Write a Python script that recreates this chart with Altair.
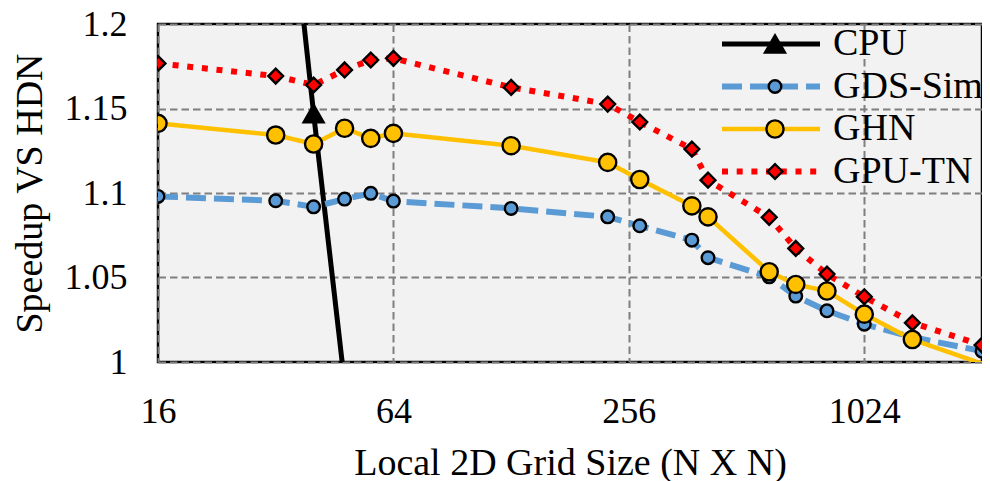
import altair as alt
import pandas as pd

# ---- data ----
grid_sizes = [16, 32, 40, 48, 56, 64, 128, 226, 273, 371, 408, 585, 684, 822, 1024, 1359, 2048]
gds_sim = [1.098, 1.0954, 1.0918, 1.0964, 1.0998, 1.0952, 1.0909, 1.0859, 1.0806, 1.0721,
           1.0617, 1.0504, 1.039, 1.0303, 1.0224, 1.0147, 1.0064]
ghn = [1.1412, 1.1343, 1.129, 1.1383, 1.1323, 1.1353, 1.128, 1.1181, 1.108, 1.0924,
       1.0859, 1.0534, 1.0459, 1.042, 1.0283, 1.0133, 0.999]
gpu_tn = [1.1767, 1.1692, 1.1639, 1.1728, 1.1787, 1.1797, 1.1625, 1.1526, 1.142, 1.126,
          1.1076, 1.0856, 1.0672, 1.052, 1.0386, 1.0232, 1.010]
cpu_sizes = [32, 40, 48]
cpu = [1.355, 1.147, 0.9875]

series_names = ["CPU", "GDS-Sim", "GHN", "GPU-TN"]
line_colors = ["#000000", "#5b9bd5", "#ffc000", "#ff0000"]
line_dashes = [[1, 0], [20, 8], [1, 0], [6, 8.7]]
line_widths = [5, 6, 4.5, 6]
marker_fills = ["#000000", "#5b9bd5", "#ffc000", "#ff0000"]
# marker paths drawn at size 4 (scale 1 => pixel units)
marker_shapes = [
    "M0,-8.66L-10,8.66L10,8.66Z",
    "M-6.3,0A6.3,6.3,0,1,0,6.3,0A6.3,6.3,0,1,0,-6.3,0Z",
    "M-8.6,0A8.6,8.6,0,1,0,8.6,0A8.6,8.6,0,1,0,-8.6,0Z",
    "M-7.4,0L0,-7.4L7.4,0L0,7.4Z",
]

x_ticks = [16, 64, 256, 1024]
y_ticks = [1, 1.05, 1.1, 1.15, 1.2]

rows = []
for s, xs, ys in [("CPU", cpu_sizes, cpu), ("GDS-Sim", grid_sizes, gds_sim),
                  ("GHN", grid_sizes, ghn), ("GPU-TN", grid_sizes, gpu_tn)]:
    for xv, yv in zip(xs, ys):
        rows.append({"size": xv, "speedup": yv, "series": s, "series_m": s})
df = pd.DataFrame(rows)

FONT = "Liberation Serif"

x_enc = alt.X(
    "size:Q",
    scale=alt.Scale(type="log", base=2, domain=[16, 2048], nice=False),
    axis=alt.Axis(values=x_ticks, title="Local 2D Grid Size (N X N)", format="d",
                  labelBaseline="alphabetic", labelPadding=60, labelFlush=False,
                  titleY=112, titleBaseline="alphabetic"),
)
y_enc = alt.Y(
    "speedup:Q",
    scale=alt.Scale(domain=[1, 1.2], nice=False, zero=False),
    axis=alt.Axis(values=y_ticks, title="Speedup VS HDN", format="~g",
                  labelPadding=31, labelFlush=False, titleX=-128, titleY=169,
                  titleBaseline="middle", titleAlign="center", titleAngle=270),
)

stroke_enc = alt.Stroke(
    "series:N",
    scale=alt.Scale(domain=series_names, range=line_colors),
    legend=alt.Legend(title=None, orient="none", legendX=594, legendY=1,
                      symbolType="M-24.5,0L24.5,0", symbolSize=16,
                      labelFont=FONT, labelFontSize=38, labelColor="black",
                      labelOffset=43, labelLimit=400, rowPadding=4.5, padding=0),
)
dash_enc = alt.StrokeDash("series:N", scale=alt.Scale(domain=series_names, range=line_dashes))
width_enc = alt.StrokeWidth("series:N", scale=alt.Scale(type="ordinal", domain=series_names, range=line_widths))

fill_enc = alt.Fill(
    "series_m:N",
    scale=alt.Scale(range=marker_fills),
    legend=alt.Legend(title=None, orient="none", legendX=598, legendY=1,
                      symbolSize=4, symbolStrokeColor="black", symbolStrokeWidth=2.4,
                      labelFont=FONT, labelFontSize=38, labelExpr="' '",
                      labelOffset=43, labelLimit=400, rowPadding=4.5, padding=0),
)
shape_enc = alt.Shape("series_m:N", scale=alt.Scale(range=marker_shapes))

base = alt.Chart(df)
layers = []
for s in series_names:
    flt = alt.datum.series == s
    layers.append(
        base.transform_filter(flt)
        .mark_line(clip=True, strokeCap="butt", strokeJoin="round")
        .encode(x=x_enc, y=y_enc, stroke=stroke_enc, strokeDash=dash_enc, strokeWidth=width_enc)
    )
    layers.append(
        base.transform_filter(flt)
        .transform_filter("datum.speedup >= 1 && datum.speedup <= 1.2")
        .mark_point(clip=True, filled=True, size=4, stroke="black", strokeWidth=2.4, opacity=1)
        .encode(x=x_enc, y=y_enc, fill=fill_enc, shape=shape_enc)
    )

chart = (
    alt.layer(*layers)
    .properties(width=824, height=338,
                autosize=alt.AutoSizeParams(type="none"),
                padding={"left": 150, "top": 16, "right": 0, "bottom": 119})
    .configure_view(fill="#f2f2f2", stroke="black", strokeWidth=2.5)
    .configure_axis(domain=False, ticks=False, grid=True, gridColor="#7f7f7f",
                    gridDash=[7.5, 4], gridWidth=2,
                    labelFont=FONT, labelFontSize=36, labelColor="black",
                    titleFont=FONT, titleFontSize=38, titleColor="black", titleFontWeight="normal")
    .configure_legend(labelFont=FONT)
)

chart.save("out.html", embed_options={"renderer": "svg", "actions": False})
